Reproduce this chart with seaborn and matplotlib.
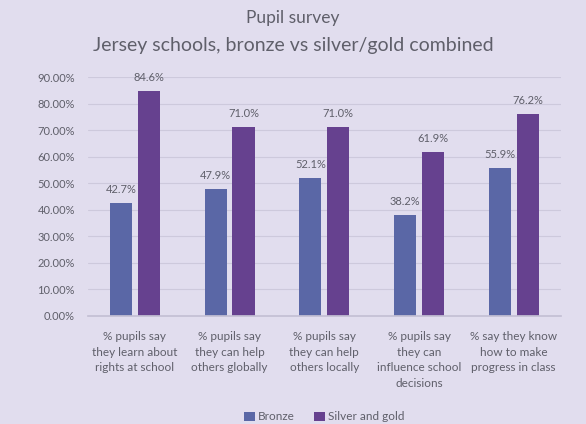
import matplotlib
matplotlib.use("Agg")
import matplotlib.pyplot as plt
import seaborn as sns
import pandas as pd
from matplotlib.ticker import FuncFormatter, MultipleLocator

categories = [
    "% pupils say\nthey learn about\nrights at school",
    "% pupils say\nthey can help\nothers globally",
    "% pupils say\nthey can help\nothers locally",
    "% pupils say\nthey can\ninfluence school\ndecisions",
    "% say they know\nhow to make\nprogress in class",
]
bronze = [42.7, 47.9, 52.1, 38.2, 55.9]
silver_gold = [84.6, 71.0, 71.0, 61.9, 76.2]
series_names = ["Bronze", "Silver and gold"]

df = pd.DataFrame({
    "category": categories * 2,
    "value": bronze + silver_gold,
    "series": [series_names[0]] * len(categories) + [series_names[1]] * len(categories),
})

bg = "#e1ddee"
text_col = "#5f5f6a"
sns.set_theme(style="white")
plt.rcParams["font.family"] = ["Lato", "DejaVu Sans"]

fig = plt.figure(figsize=(5.86, 4.24), dpi=100, facecolor=bg)
ax = fig.add_axes([87.5 / 586, 1 - 316 / 424, 473.5 / 586, 239 / 424])
ax.set_facecolor(bg)

palette = {"Bronze": "#5a67a6", "Silver and gold": "#66418f"}
sns.barplot(data=df, x="category", y="value", hue="series", order=categories,
            hue_order=series_names, palette=palette, width=0.59, gap=0.21,
            saturation=1, linewidth=0, ax=ax, legend=True)

for p in ax.patches:
    h = p.get_height()
    if h > 0 and p.get_width() < 0.5:
        ax.text(p.get_x() + p.get_width() / 2, h + 3.0, f"{h:.1f}%",
                ha="center", va="bottom", fontsize=8, color=text_col)

ax.set_ylim(0, 90)
ax.yaxis.set_major_locator(MultipleLocator(10))
ax.yaxis.set_major_formatter(FuncFormatter(lambda v, _: f"{v:.2f}%"))
ax.grid(axis="y", color="#cdc9dc", linewidth=0.8)
ax.set_axisbelow(True)
for s in ["top", "right", "left"]:
    ax.spines[s].set_visible(False)
ax.spines["bottom"].set_color("#c4c0d4")
ax.tick_params(axis="y", labelsize=8, colors=text_col, length=0, pad=9)
ax.tick_params(axis="x", labelsize=8.5, colors=text_col, length=0, pad=11)
for lab in ax.get_xticklabels():
    lab.set_linespacing(1.5)
ax.set_xlabel("")
ax.set_ylabel("")
ax.set_xlim(-0.5, 4.5)

leg = ax.legend(loc="center", bbox_to_anchor=(0.5, (316 - 417) / 239), ncol=2,
                frameon=False, fontsize=8.5, handlelength=0.9, handleheight=0.9,
                columnspacing=1.6, handletextpad=0.3)
for t in leg.get_texts():
    t.set_color(text_col)

fig.text(0.5, 1 - 18 / 424, "Pupil survey", ha="center", va="center",
         fontsize=12.5, color=text_col)
fig.text(0.5, 1 - 45 / 424, "Jersey schools, bronze vs silver/gold combined",
         ha="center", va="center", fontsize=14, color=text_col)

fig.savefig("out.png", dpi=100, facecolor=bg)
